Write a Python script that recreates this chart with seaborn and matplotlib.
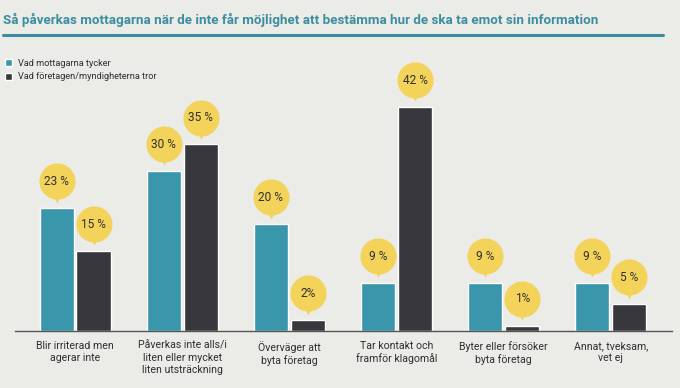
import matplotlib
matplotlib.use("Agg")
import matplotlib.pyplot as plt
import matplotlib.transforms as mtransforms
from matplotlib.lines import Line2D
from matplotlib import font_manager
import pandas as pd
import seaborn as sns

# --- data ---
categories = [
    "Blir irriterad men\nagerar inte",
    "Påverkas inte alls/i\nliten eller mycket\nliten utsträckning",
    "Överväger att\nbyta företag",
    "Tar kontakt och\nframför klagomål",
    "Byter eller försöker\nbyta företag",
    "Annat, tveksam,\nvet ej",
]
series_names = ["Vad mottagarna tycker", "Vad företagen/myndigheterna tror"]
mottagarna = [23, 30, 20, 9, 9, 9]
foretagen = [15, 35, 2, 42, 1, 5]
labels_mottagarna = ["23 %", "30 %", "20 %", "9 %", "9 %", "9 %"]
labels_foretagen = ["15 %", "35 %", "2%", "42 %", "1%", "5 %"]

TITLE = "Så påverkas mottagarna när de inte får möjlighet att bestämma hur de ska ta emot sin information"

# --- style ---
BG = "#ebebe8"
TEAL = "#3a96ab"
DARK = "#38383c"
YELLOW = "#f3d35a"
TITLE_COL = "#3b8e9f"
TEXT = "#2f2f2f"

sns.set_theme(style="white")
available = {f.name for f in font_manager.fontManager.ttflist}
narrow = "Liberation Sans Narrow" if "Liberation Sans Narrow" in available else "Roboto"
plt.rcParams["font.family"] = [narrow, "DejaVu Sans"]

df = pd.DataFrame({
    "kategori": categories * 2,
    "serie": [series_names[0]] * len(categories) + [series_names[1]] * len(categories),
    "andel": mottagarna + foretagen,
})

fig = plt.figure(figsize=(6.8, 3.88), dpi=100, facecolor=BG)
ax = fig.add_axes([15 / 680, 1 - 331 / 388, 657 / 680, 291 / 388])
ax.set_facecolor(BG)

sns.barplot(data=df, x="kategori", y="andel", hue="serie",
            palette=[TEAL, DARK], width=0.69, gap=0.08,
            saturation=1, ax=ax, legend=True)

ax.set_xlim(-0.56, 5.57)
ax.set_ylim(0, 54.6)
ax.set_xlabel("")
ax.set_ylabel("")
ax.set_yticks([])
ax.tick_params(axis="x", length=0, pad=7)
ax.set_xticks(range(len(categories)))
ax.set_xticklabels(categories, fontsize=7.6, color=TEXT, linespacing=1.25)
for s in ["top", "left", "right"]:
    ax.spines[s].set_visible(False)
ax.spines["bottom"].set_color("#555555")
ax.spines["bottom"].set_linewidth(1.0)

# yellow speech bubbles above each bar
circle_tr = mtransforms.offset_copy(ax.transData, fig=fig, x=0, y=19.4, units="points")
tip_tr = mtransforms.offset_copy(ax.transData, fig=fig, x=0, y=7.8, units="points")
for container, labels in zip(ax.containers, [labels_mottagarna, labels_foretagen]):
    for bar, lab in zip(container, labels):
        cx = bar.get_x() + bar.get_width() / 2
        top = bar.get_height()
        ax.plot(cx, top, marker="v", markersize=7, color=YELLOW, mec="none",
                transform=tip_tr, clip_on=False, zorder=3)
        ax.plot(cx, top, marker="o", markersize=26, color=YELLOW, mec="none",
                transform=circle_tr, clip_on=False, zorder=4)
        ax.text(cx, top, lab, transform=circle_tr, ha="center", va="center",
                fontsize=8.6, color=TEXT, zorder=5, clip_on=False)

# legend in upper left
handles, leg_labels = ax.get_legend_handles_labels()
ax.get_legend().remove()
fig.legend(handles, leg_labels, loc="upper left",
           bbox_to_anchor=(1 / 680, 1 - 55 / 388), frameon=False,
           fontsize=6.6, handlelength=0.8, handleheight=0.8,
           handletextpad=0.6, labelspacing=0.5, borderaxespad=0,
           labelcolor=TEXT)

# title and underline
fig.text(3 / 680, 1 - 20 / 388, TITLE, ha="left", va="center",
         fontsize=9.6, fontweight="bold", color=TITLE_COL)
fig.add_artist(Line2D([3 / 680, 663 / 680], [1 - 35 / 388] * 2,
                      color=TITLE_COL, linewidth=2.2))

fig.savefig("out.png", dpi=100, facecolor=BG)
